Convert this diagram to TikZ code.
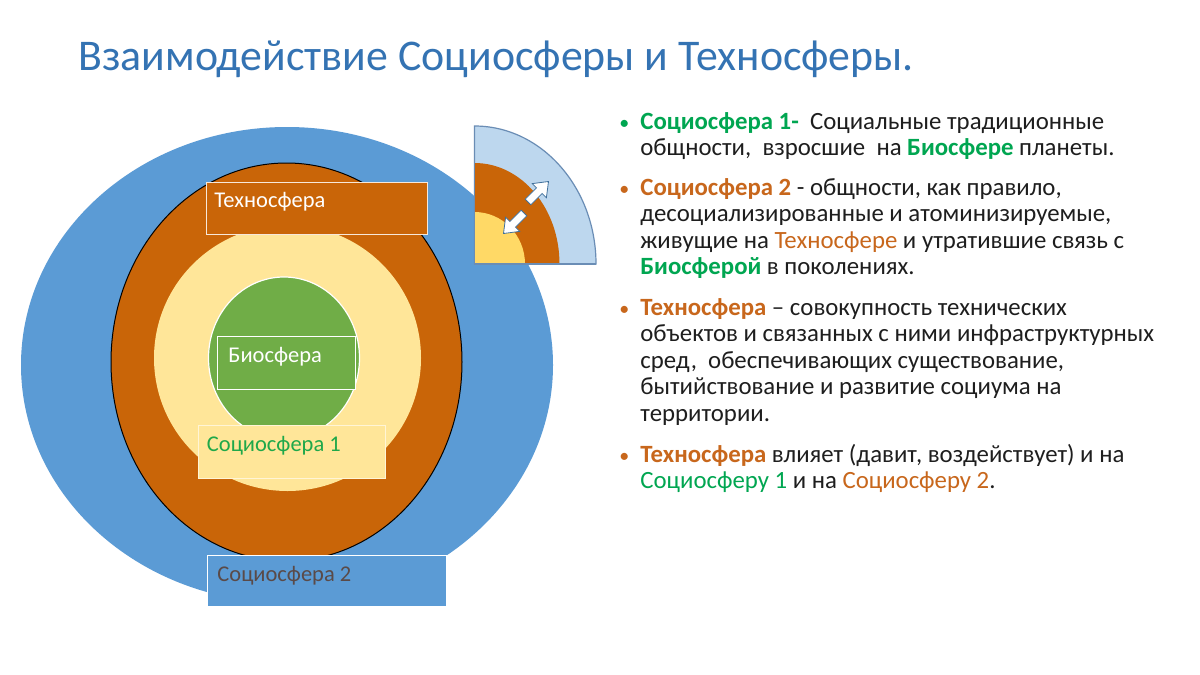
\documentclass[tikz,border=0pt]{standalone}
\usepackage{fontspec}
\setmainfont{Carlito}
\definecolor{sblue}{HTML}{5B9BD5}
\definecolor{tbrown}{HTML}{C96508}
\definecolor{lyellow}{HTML}{FFE699}
\definecolor{bgreen}{HTML}{70AD47}
\definecolor{iblue}{HTML}{BDD7EE}
\definecolor{iborder}{HTML}{6A8DB5}
\definecolor{iyellow}{HTML}{FFD966}
\definecolor{titleblue}{HTML}{3473B3}
\definecolor{sgreen}{HTML}{00A651}
\definecolor{torange}{HTML}{C8671C}
\definecolor{txtblack}{HTML}{1E1E1E}
\definecolor{s2text}{HTML}{5A4A48}
\definecolor{s1text}{HTML}{1FA84A}
\definecolor{arrowborder}{HTML}{41719C}
\tikzset{
  txt/.style={anchor=base west, inner sep=0pt, font=\fontsize{12.4}{14}\selectfont, text=txtblack},
  bul/.style={anchor=base west, inner sep=0pt, font=\fontsize{10}{12}\selectfont},
  lbl/.style={anchor=base west, inner sep=0pt, font=\fontsize{11.25}{13}\selectfont},
  labelbox/.style={rectangle, anchor=north west, inner sep=0pt, line width=0.6pt},
  blockarr/.style={fill=white, draw=arrowborder, line width=0.4pt, line join=miter}
}
\newcommand\myblockarrow[3]{%
  \draw[blockarr, shift={(#1)}, rotate=#2]
    (0,-4) -- (#3-13,-4) -- (#3-13,-10) -- (#3,0) -- (#3-13,10) -- (#3-13,4) -- (0,4) -- cycle;}
\begin{document}
\begin{tikzpicture}[x=0.5pt,y=-0.5pt]
\useasboundingbox (0,0) rectangle (1200,675);
\fill[white] (0,0) rectangle (1200,675);

% title
\node[anchor=base west, inner sep=0pt, font=\fontsize{21.9}{26}\selectfont, text=titleblue] (title) at (78,70)
  {Взаимодействие Социосферы и Техносферы.};

% concentric spheres
\fill[sblue] (287,365) ellipse [x radius=266, y radius=238];
\draw[fill=tbrown, draw=black, line width=0.5pt] (286.5,362) ellipse [x radius=175.5, y radius=199];
\fill[lyellow] (287.5,358) ellipse [x radius=133.5, y radius=133];
\draw[fill=bgreen, draw=white, line width=0.6pt] (284,358) ellipse [x radius=75.5, y radius=81];

% label boxes
\node[labelbox, draw=white!85!tbrown, fill=tbrown, minimum width=110.6pt, minimum height=26pt] (tbox) at (205.5,182) {};
\node[lbl, text=white] (tlbl) at (214,207) {Техносфера};

\node[labelbox, draw=white, fill=bgreen, minimum width=69pt, minimum height=26.5pt] (bbox) at (217,336) {};
\node[lbl, text=white] (blbl) at (228,362) {Биосфера};

\node[labelbox, draw=white!60!lyellow, fill=lyellow, minimum width=93.7pt, minimum height=26.5pt] (s1box) at (197.5,425) {};
\node[lbl, text=s1text] (s1lbl) at (206.5,451) {Социосфера 1};

\node[labelbox, draw=white, fill=sblue, minimum width=119.5pt, minimum height=25.5pt] (s2box) at (207,555) {};
\node[lbl, text=s2text] (s2lbl) at (217,581) {Социосфера 2};

% inset quarter
\draw[fill=iblue, draw=iborder, line width=0.6pt] (474.5,264) -- ++(121.5,0)
  arc[start angle=0, end angle=-90, x radius=121.5, y radius=138] -- cycle;
\fill[tbrown] (474.5,264) -- ++(85,0)
  arc[start angle=0, end angle=-90, x radius=85, y radius=101] -- cycle;
\fill[iyellow] (474.5,264) -- ++(50.5,0)
  arc[start angle=0, end angle=-90, x radius=50.5, y radius=52] -- cycle;
\draw[iborder, line width=0.6pt] (474.5,126) -- (474.5,264) -- (596,264);
\myblockarrow{528,202}{45}{29}
\myblockarrow{524,213}{225}{29}

% bullet text
\node[bul, text=sgreen] (b1) at (619,129) {•};
\node[txt] (l11) at (640,129) {{\bfseries\color{sgreen}Социосфера 1-}\ \ Социальные традиционные};
\node[txt] (l12) at (640,155.6) {общности,\ \ взросшие\ \ на {\bfseries\color{sgreen}Биосфере} планеты.};

\node[bul, text=torange] (b2) at (619,195) {•};
\node[txt] (l21) at (640,195) {{\bfseries\color{torange}Социосфера 2} - общности, как правило,};
\node[txt] (l22) at (640,221.5) {десоциализированные и атоминизируемые,};
\node[txt] (l23) at (640,248) {живущие на {\color{torange}Техносфере} и утратившие связь с};
\node[txt] (l24) at (640,274.5) {{\bfseries\color{sgreen}Биосферой} в поколениях.};

\node[bul, text=torange] (b3) at (619,315) {•};
\node[txt] (l31) at (640,315) {{\bfseries\color{torange}Техносфера} – совокупность технических};
\node[txt] (l32) at (640,341.6) {объектов и связанных с ними инфраструктурных};
\node[txt] (l33) at (640,368.2) {сред,\ \ обеспечивающих существование,};
\node[txt] (l34) at (640,394.8) {бытийствование и развитие социума на};
\node[txt] (l35) at (640,421.4) {территории.};

\node[bul, text=torange] (b4) at (619,462) {•};
\node[txt] (l41) at (640,462) {{\bfseries\color{torange}Техносфера} влияет (давит, воздействует) и на};
\node[txt] (l42) at (640,488.5) {{\color{sgreen}Социосферу 1} и на {\color{torange}Социосферу 2}.};
\end{tikzpicture}
\end{document}
